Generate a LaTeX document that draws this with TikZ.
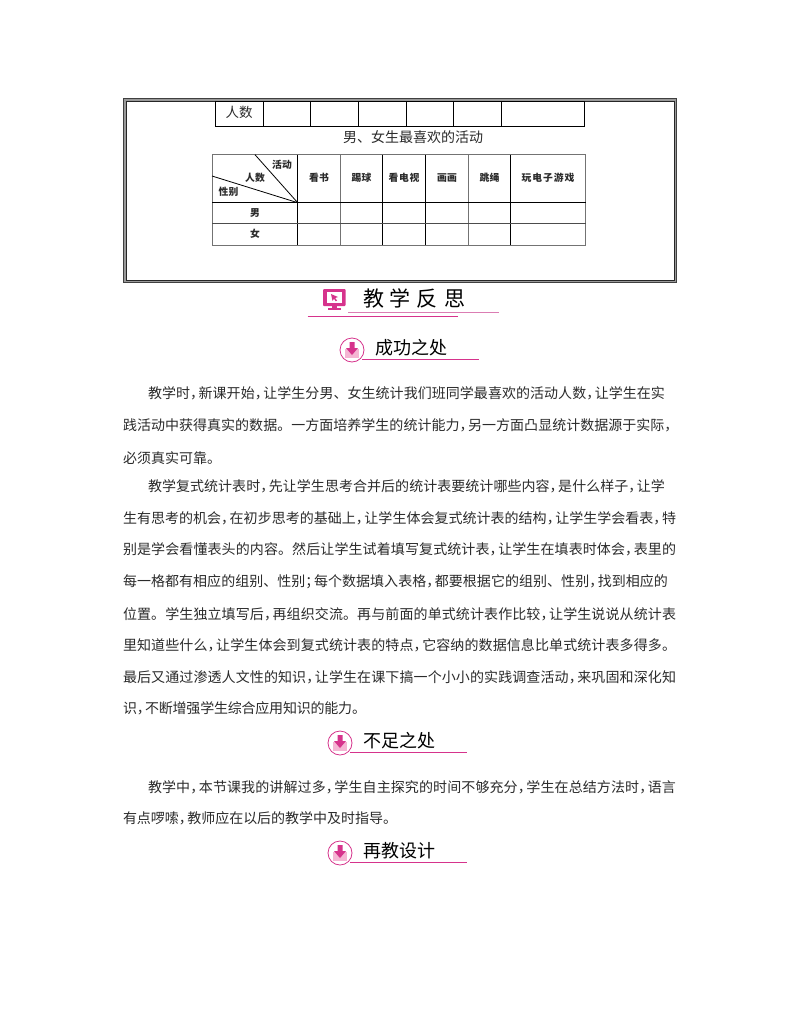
\documentclass[tikz,border=0pt]{standalone}
\usepackage{fontspec}
\setmainfont{Noto Sans CJK SC}
\newfontfamily\halffont[RawFeature=+halt]{Noto Sans CJK SC}
\definecolor{rosedark}{HTML}{D6338C}
\definecolor{roselight}{HTML}{DB7DB3}
\definecolor{rosepale}{HTML}{F5B5D3}
\definecolor{inkbody}{HTML}{2B2B2B}
\newcommand{\C}{{\halffont ，}\hskip 1.5pt\relax}
\newcommand{\Sm}{{\halffont ；}\hskip 1.5pt\relax}
\def\spreadloop#1{\ifx#1\relax\else#1\hskip 0pt plus 1pt minus 1pt\expandafter\spreadloop\fi}
\newcommand{\spreadbox}[2]{\hbox to #1pt{\spreadloop#2\relax\unskip}}
\tikzset{
  x=1pt,y=-1pt,
  textbase/.style={inner sep=0pt,outer sep=0pt,text=inkbody},
  bodyline/.style={textbase,anchor=west,font=\fontsize{14}{14}\selectfont},
  captiontext/.style={textbase,anchor=center,font=\fontsize{14}{14}\selectfont},
  celltext/.style={textbase,anchor=center,font=\fontsize{9.8}{9.8}\selectfont\bfseries},
  headtext/.style={textbase,anchor=west,text=black,font=\fontsize{18}{18}\selectfont},
  thinrule/.style={draw=black!55,line width=0.7pt},
  darkrule/.style={draw=black,line width=1pt},
}
\newcommand{\bline}[5]{\node[bodyline] (#1) at (#2,#3) {\spreadbox{#4}{#5}};}
\newcommand{\badge}[5]{%
  \fill[rosepale] (#2-7,#3-1) rectangle (#2+7,#3+8);
  \draw[rosedark,line width=0.8pt,fill=none] (#2,#3) circle[radius=12];
  \fill[rosedark] (#2-2.5,#3-8) -- (#2+2.5,#3-8) -- (#2+2.5,#3-2) -- (#2+6,#3-2) -- (#2,#3+5) -- (#2-6,#3-2) -- (#2-2.5,#3-2) -- cycle;
  \coordinate (#1a) at (#2+10,#3+9);
  \coordinate (#1b) at (#4,#3+9);
  \draw[rosedark,line width=0.9pt] (#1a) -- (#1b);
  \node[headtext] (#1t) at (#2+23,#3-2) {\spreadbox{73}{#5}};
}
\begin{document}
\begin{tikzpicture}
\useasboundingbox (0,0) rectangle (800,1028);
\fill[white] (0,0) rectangle (800,1028);
% frame
\draw[black!40,line width=3.4pt] (124.8,99.8) rectangle (675.2,281.2);
\draw[black!75,line width=1.5pt] (123.7,98.7) rectangle (676.3,282.3);
\draw[black!85,line width=1pt] (126,101) rectangle (674,280);
% top table
\draw[darkrule] (215.5,101) rectangle (584.7,126.5);
\foreach \px in {263,310.7,358.3,406,453.7,501}{\draw[darkrule] (\px,101) -- (\px,126.5);}
\node[captiontext,font=\fontsize{13.5}{13.5}\selectfont] (renshu) at (239,112) {人数};
\node[captiontext] (cap) at (413,137) {\spreadbox{140}{男、女生最喜欢的活动}};
% second table
\draw[thinrule] (212,154.7) rectangle (585.7,245.3);
\foreach \px in {340.3,468.3}{\draw[thinrule] (\px,154.7) -- (\px,245.3);}
\foreach \px in {297.7,382.7,425.7,510.7}{\draw[black,line width=0.9pt] (\px,154.7) -- (\px,245.3);}
\draw[black,line width=0.9pt] (212,202.7) -- (585.7,202.7);
\draw[black!70,line width=0.8pt] (212,223.7) -- (585.7,223.7);
\coordinate (corner) at (297.7,202.7);
\coordinate (diagA) at (255,154.7);
\coordinate (diagB) at (212,176);
\draw[black,line width=0.8pt] (corner) -- (diagA);
\draw[black,line width=0.8pt] (corner) -- (diagB);
\node[celltext] (hA) at (282,165) {\spreadbox{20}{活动}};
\node[celltext] (hB) at (255,178) {\spreadbox{20}{人数}};
\node[celltext] (hC) at (228.5,192) {\spreadbox{20}{性别}};
\node[celltext] (c1) at (319,178) {\spreadbox{20}{看书}};
\node[celltext] (c2) at (361.5,178) {\spreadbox{20}{踢球}};
\node[celltext] (c3) at (404,178) {\spreadbox{31}{看电视}};
\node[celltext] (c4) at (447,178) {\spreadbox{20}{画画}};
\node[celltext] (c5) at (489.5,178) {\spreadbox{20}{跳绳}};
\node[celltext] (c6) at (548,178) {\spreadbox{53}{玩电子游戏}};
\node[celltext] (r1) at (255,212.5) {男};
\node[celltext] (r2) at (255,234) {女};
% section title
\coordinate (ruleAa) at (348,312.7);
\coordinate (ruleAb) at (499,312.7);
\coordinate (ruleBa) at (307.7,316.3);
\coordinate (ruleBb) at (458,316.3);
\draw[roselight,line width=0.9pt] (ruleAa) -- (ruleAb);
\draw[rosedark,line width=1pt] (ruleBa) -- (ruleBb);
\fill[rosedark,rounded corners=1pt] (323,289) rectangle (345.7,306);
\fill[white] (326.5,292) rectangle (342,302.5);
\fill[rosedark] (331,294) -- (338,297) -- (335.2,298) -- (337,300.5) -- (335.8,301.3) -- (334,298.8) -- (332.5,300.8) -- cycle;
\fill[rosedark] (332,306) rectangle (337,308);
\fill[rosedark] (328,308) rectangle (341,310);
\node[textbase,anchor=west,text=black,font=\fontsize{21}{21}\selectfont] (title) at (363,298) {\hbox to 102pt{教\hfil 学\hfil 反\hfil 思}};
\badge{s}{352}{350}{479}{成功之处}
\badge{n}{340}{743}{467}{不足之处}
\badge{r}{340}{853}{467}{再教设计}
% paragraph one
\bline{pa}{148}{393}{517}{教学时\C 新课开始\C 让学生分男、女生统计我们班同学最喜欢的活动人数\C 让学生在实}
\bline{pb}{123}{425}{550}{践活动中获得真实的数据。一方面培养学生的统计能力\C 另一方面凸显统计数据源于实际\C}
\bline{pc}{123}{458}{98}{必须真实可靠。}
% paragraph two
\bline{qa}{148}{486}{517}{教学复式统计表时\C 先让学生思考合并后的统计表要统计哪些内容\C 是什么样子\C 让学}
\bline{qb}{123}{518}{553}{生有思考的机会\C 在初步思考的基础上\C 让学生体会复式统计表的结构\C 让学生学会看表\C 特}
\bline{qc}{123}{549}{553}{别是学会看懂表头的内容。然后让学生试着填写复式统计表\C 让学生在填表时体会\C 表里的}
\bline{qd}{123}{582}{545}{每一格都有相应的组别、性别\Sm 每个数据填入表格\C 都要根据它的组别、性别\C 找到相应的}
\bline{qe}{123}{614}{553}{位置。学生独立填写后\C 再组织交流。再与前面的单式统计表作比较\C 让学生说说从统计表}
\bline{qf}{123}{645}{553}{里知道些什么\C 让学生体会到复式统计表的特点\C 它容纳的数据信息比单式统计表多得多。}
\bline{qg}{123}{677}{553}{最后又通过渗透人文性的知识\C 让学生在课下搞一个小小的实践调查活动\C 来巩固和深化知}
\bline{qh}{123}{708}{243}{识\C 不断增强学生综合应用知识的能力。}
% paragraph three
\bline{ta}{148}{787}{528}{教学中\C 本节课我的讲解过多\C 学生自主探究的时间不够充分\C 学生在总结方法时\C 语言}
\bline{tb}{123}{818}{274}{有点啰嗦\C 教师应在以后的教学中及时指导。}
\end{tikzpicture}
\end{document}
